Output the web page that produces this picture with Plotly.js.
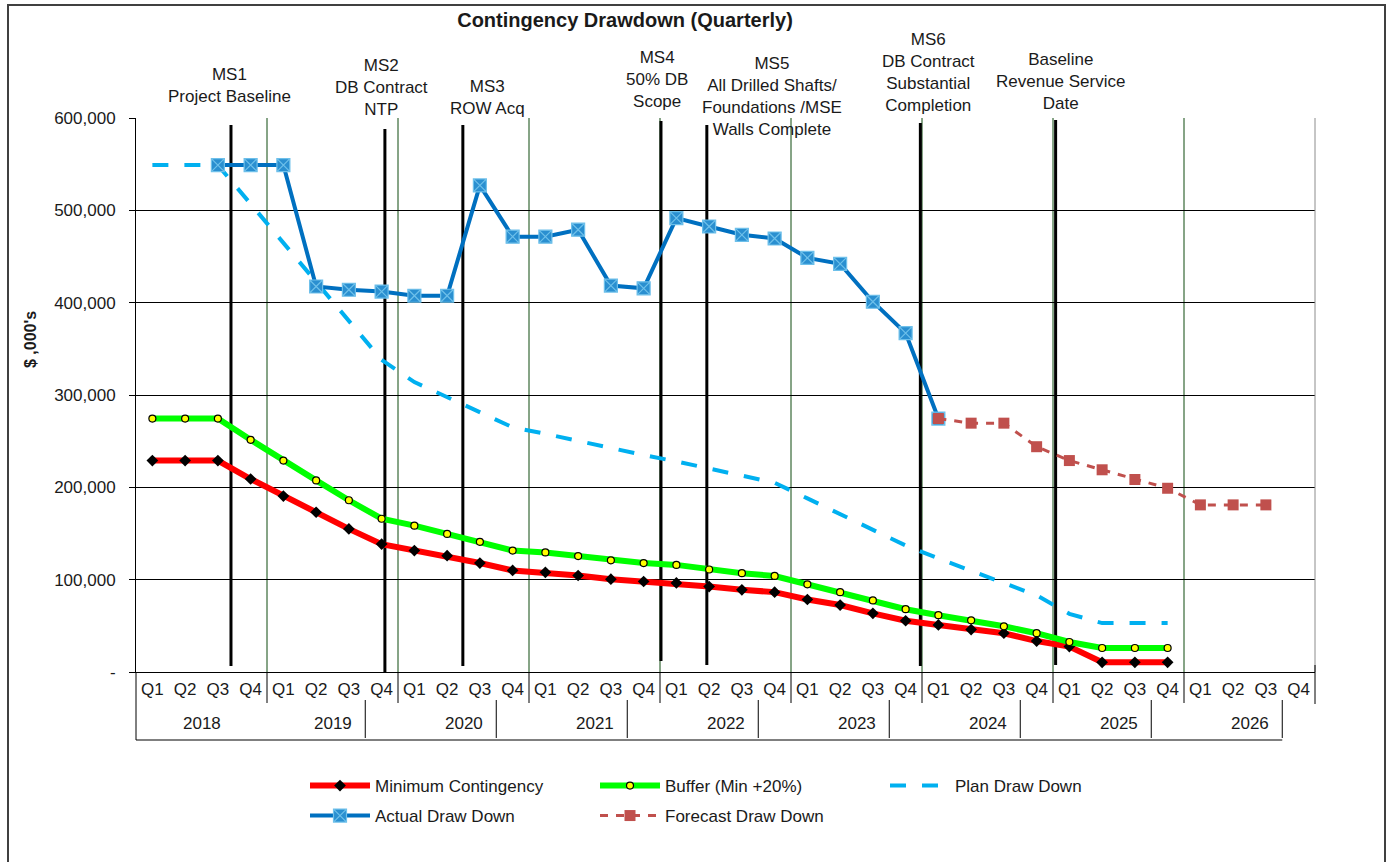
<!DOCTYPE html>
<html><head><meta charset="utf-8">
<script src="https://cdn.plot.ly/plotly-3.0.1.min.js"></script>
<style>html,body{margin:0;padding:0;background:#fff;} #chart{width:1390px;height:862px;}</style>
</head><body><div id="chart"></div>
<script>
// ---- data ----
const years = ['2018','2019','2020','2021','2022','2023','2024','2025','2026'];
const quarters = ['Q1','Q2','Q3','Q4'];
const yTickVals = [0, 100000, 200000, 300000, 400000, 500000, 600000];
const yTickText = ['-', '100,000', '200,000', '300,000', '400,000', '500,000', '600,000'];

// 2018 Q1 .. 2025 Q4
const minContingency = [229000,229000,229000,209000, 190500,173000,155000,138500, 131500,126000,118000,110000,
  108000,104500,100500,98000, 96500,92500,89000,86500, 78500,72500,63500,55500, 51000,46000,42000,33500, 27500,10500,10500,10500];
const bufferMin20 = [274500,274500,274500,251500, 229000,207500,186000,166000, 158500,149500,141000,131500,
  129500,125500,121000,118000, 116000,111000,107000,104000, 95000,86500,77500,68000, 61500,56000,49500,42000, 32500,26000,26000,26000];
const planDrawDown = [549000,549000,549000,507000, 465000,422000,380000,338000, 314000,298000,282000,265000,
  258000,250000,242000,235000, 228000,220000,212000,205000, 188000,171000,154000,137000, 123000,110000,96500,83000, 63000,53000,53000,53000];
// 2018 Q3 .. 2024 Q1
const actualDrawDown = [549000,549000,549000,417500,414000,412000, 407500,407500,527000,471500,
  471500,479000,418500,415500, 491500,482500,473500,469500, 448500,442000,401000,367000, 274500];
// 2024 Q1 .. 2026 Q3
const forecastDrawDown = [274500,269500,269500,244000, 229000,219000,208500,199000, 181000,181000,181000];

const milestoneTexts = ['MS1<br>Project Baseline', 'MS2<br>DB Contract<br>NTP', 'MS3<br>ROW Acq',
  'MS4<br>50% DB<br>Scope', 'MS5<br>All Drilled Shafts/<br>Foundations /MSE<br>Walls Complete',
  'MS6<br>DB Contract<br>Substantial<br>Completion', 'Baseline<br>Revenue Service<br>Date'];
const milestoneAt = [2.4, 7.1, 9.48, 15.53, 16.93, 23.45, 27.58];   // quarter index

// ---- layout geometry ----
const L = 136, R = 1315, T = 118, B = 672;
const W = R - L, H = B - T;
const xp = px => (px - L) / W;
const yp = py => (B - py) / H;

const cats = [];
years.forEach(y => quarters.forEach(q => cats.push(y + ' ' + q)));
const tickText = cats.map((c, i) => quarters[i % 4]);

const FONT = 'Liberation Sans, Arial, sans-serif';

const traces = [
  {name: 'Minimum Contingency', x: cats.slice(0, 32), y: minContingency, mode: 'lines+markers',
   line: {color: '#FF0000', width: 6}, marker: {symbol: 'diamond', size: 9, color: '#000000'}, legend: 'legend'},
  {name: 'Buffer (Min +20%)', x: cats.slice(0, 32), y: bufferMin20, mode: 'lines+markers',
   line: {color: '#00FF00', width: 6}, marker: {symbol: 'circle', size: 7, color: '#FFFF00', line: {color: '#000', width: 1.2}}, legend: 'legend'},
  {name: 'Plan Draw Down', x: cats.slice(0, 32), y: planDrawDown, mode: 'lines',
   line: {color: '#00B0F0', width: 4, dash: '16px,16px'}, legend: 'legend'},
  {name: 'Actual Draw Down', x: cats.slice(2, 25), y: actualDrawDown, mode: 'lines+markers',
   line: {color: '#0070C0', width: 4}, marker: {symbol: 'square-x', size: 13, color: '#2A8FD0', line: {color: '#6EC0EA', width: 1.2}}, legend: 'legend2'},
  {name: 'Forecast Draw Down', x: cats.slice(24, 35), y: forecastDrawDown, mode: 'lines+markers',
   line: {color: '#C0504D', width: 3, dash: '8px,8px'}, marker: {symbol: 'square', size: 11, color: '#C0504D'}, legend: 'legend2'}
];

const shapes = [];
// outer chart frame
shapes.push({type: 'rect', xref: 'paper', yref: 'paper', x0: xp(8), x1: xp(1385), y0: yp(5), y1: yp(875),
  line: {color: '#404040', width: 2}, layer: 'below'});
// year gridlines (dark green)
for (let k = 1; k <= 8; k++) {
  shapes.push({type: 'line', xref: 'x', yref: 'paper', x0: 4 * k - 0.5, x1: 4 * k - 0.5, y0: 0, y1: 1,
    line: {color: '#0E4A0E', width: 1}, layer: 'below'});
  // tick below axis at year boundary
  shapes.push({type: 'line', xref: 'x', yref: 'paper', x0: 4 * k - 0.5, x1: 4 * k - 0.5, y0: yp(672), y1: yp(703),
    line: {color: '#000', width: 1}});
  // lower-row separators
  shapes.push({type: 'line', xref: 'x', yref: 'paper', x0: 4 * k + 2.5, x1: 4 * k + 2.5, y0: yp(700), y1: yp(738),
    line: {color: '#000', width: 1}});
}
// right plot border + right end tick
shapes.push({type: 'line', xref: 'paper', yref: 'paper', x0: 1, x1: 1, y0: 0, y1: 1, line: {color: '#8c8c8c', width: 1}});
shapes.push({type: 'line', xref: 'paper', yref: 'paper', x0: 1, x1: 1, y0: yp(665), y1: yp(704), line: {color: '#000', width: 1}});
// left axis extension and bottom line of category area
shapes.push({type: 'line', xref: 'paper', yref: 'paper', x0: 0, x1: 0, y0: 0, y1: yp(740), line: {color: '#000', width: 1}});
shapes.push({type: 'line', xref: 'x', yref: 'paper', x0: -0.5, x1: 34.5, y0: yp(740), y1: yp(740), line: {color: '#000', width: 1}});
// milestone lines
const msTop = [125, 129, 125, 121, 125, 123, 120];
const msBot = [666, 672, 666, 661, 665, 666, 665];
milestoneAt.forEach((m, i) => {
  shapes.push({type: 'line', xref: 'x', yref: 'paper', x0: m, x1: m, y0: yp(msBot[i]), y1: yp(msTop[i]),
    line: {color: '#000', width: 3}, layer: 'below'});
});

const annotations = [];
years.forEach((y, k) => annotations.push({text: y, xref: 'x', yref: 'paper', x: 4 * k + 1.5, y: yp(723),
  showarrow: false, yanchor: 'middle', xanchor: 'center', font: {size: 17, color: '#1a1a1a', family: FONT}}));
const msCx = [229, 381, 487, 657, 772, 928, 1060];
const msCy = [85, 88, 98, 80, 97, 73, 82];
milestoneTexts.forEach((t, i) => annotations.push({text: t, xref: 'paper', yref: 'paper', x: xp(msCx[i]), y: yp(msCy[i]),
  showarrow: false, xanchor: 'center', yanchor: 'middle', align: 'center', font: {size: 17, color: '#1a1a1a', family: FONT}}));
annotations.push({text: "<b>$ ,000's</b>", xref: 'paper', yref: 'paper', x: xp(30), y: yp(340), textangle: -90,
  showarrow: false, xanchor: 'center', yanchor: 'middle', font: {size: 16, color: '#1a1a1a', family: FONT}});

const layout = {
  width: 1390, height: 862,
  margin: {l: L, r: 1390 - R, t: T, b: 862 - B, pad: 0},
  paper_bgcolor: '#fff', plot_bgcolor: '#fff',
  font: {family: FONT, size: 17, color: '#1a1a1a'},
  title: {text: '<b>Contingency Drawdown (Quarterly)</b>', xref: 'container', yref: 'container',
    x: 625 / 1390, xanchor: 'center', y: 1 - 20 / 862, yanchor: 'middle', font: {size: 20, color: '#1a1a1a', family: FONT}},
  xaxis: {type: 'category', categoryorder: 'array', categoryarray: cats, range: [-0.5, 35.5],
    tickvals: cats, ticktext: tickText, ticks: '', showgrid: false, zeroline: false,
    showline: true, linecolor: '#000', linewidth: 1, tickfont: {size: 17, color: '#1a1a1a'}, tickangle: 0,
    ticklabelstandoff: 2, fixedrange: true},
  yaxis: {range: [0, 600000], tickvals: yTickVals, ticktext: yTickText, ticks: 'outside', ticklen: 6, tickcolor: '#000',
    showgrid: true, gridcolor: '#000', gridwidth: 1, zeroline: false, showline: true, linecolor: '#000', linewidth: 1,
    ticklabelstandoff: 10, tickfont: {size: 17, color: '#1a1a1a'}, fixedrange: true},
  showlegend: true,
  legend: {orientation: 'h', x: xp(305), y: yp(768), xanchor: 'left', yanchor: 'top', entrywidth: 215, itemwidth: 60,
    font: {size: 17, color: '#1a1a1a'}, bgcolor: 'rgba(0,0,0,0)', borderwidth: 0},
  legend2: {orientation: 'h', x: xp(305), y: yp(798), xanchor: 'left', yanchor: 'top', entrywidth: 215, itemwidth: 60,
    font: {size: 17, color: '#1a1a1a'}, bgcolor: 'rgba(0,0,0,0)', borderwidth: 0},
  shapes: shapes,
  annotations: annotations
};

Plotly.newPlot('chart', traces, layout, {displayModeBar: false, staticPlot: true});
</script></body></html>
